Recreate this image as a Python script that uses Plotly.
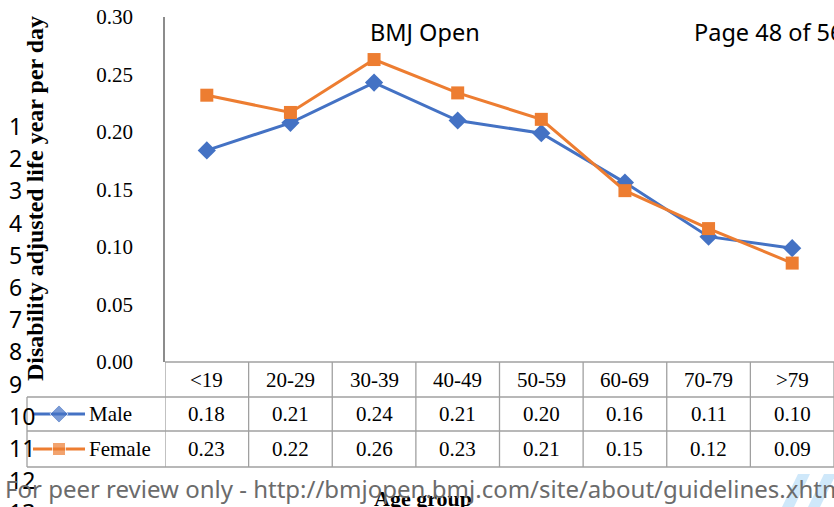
import plotly.graph_objects as go

categories = ["<19", "20-29", "30-39", "40-49", "50-59", "60-69", "70-79", ">79"]
male = [0.184, 0.208, 0.243, 0.210, 0.199, 0.156, 0.109, 0.099]
female = [0.232, 0.217, 0.263, 0.234, 0.211, 0.149, 0.116, 0.086]
series_names = ["Male", "Female"]
y_ticks = [0.00, 0.05, 0.10, 0.15, 0.20, 0.25, 0.30]
y_title = "Disability adjusted life year per day"
x_title = "Age group"
line_numbers = [str(i) for i in range(1, 14)]

W, H = 834, 507
BLUE = "#4472C4"
ORANGE = "#ED7D31"
GRID = "#A0A0A0"
SERIF = "Liberation Serif, Times New Roman, serif"
SANS = "Noto Sans, Open Sans, sans-serif"


def px(x):
    return x / W


def py(y):
    return (H - y) / H


def ann(x, y, text, font, xref="paper", xanchor="center", **kw):
    return dict(x=x, y=y, xref=xref, yref="paper", text=text, showarrow=False,
                xanchor=xanchor, yanchor="middle", font=font, **kw)


fig = go.Figure()
fig.add_trace(go.Scatter(x=categories, y=male, name=series_names[0], mode="lines+markers",
                         line=dict(color=BLUE, width=3),
                         marker=dict(symbol="diamond", size=14, color=BLUE), cliponaxis=False))
fig.add_trace(go.Scatter(x=categories, y=female, name=series_names[1], mode="lines+markers",
                         line=dict(color=ORANGE, width=3),
                         marker=dict(symbol="square", size=13, color=ORANGE), cliponaxis=False))

# legend keys in the data table (separate full-page axis in pixel units)
for name, col, sym, sz, yc in [(series_names[0], BLUE, "diamond", 14, 414),
                               (series_names[1], ORANGE, "square", 13, 449)]:
    fig.add_trace(go.Scatter(x=[33, 59, 85], y=[yc, yc, yc], mode="lines+markers",
                             line=dict(color=col, width=3),
                             marker=dict(symbol=sym, size=[0, sz, 0], color=col),
                             xaxis="x2", yaxis="y2", showlegend=False, hoverinfo="skip",
                             cliponaxis=False))

shapes = []
annotations = []

# table grid
table_top, r1, r2, r3 = 362, 397, 431, 467
shapes.append(dict(type="line", xref="paper", yref="paper", x0=px(165), x1=1, y0=py(table_top), y1=py(table_top),
                   line=dict(color=GRID, width=1.3)))
for yy in (r1, r2, r3):
    shapes.append(dict(type="line", xref="paper", yref="paper", x0=px(27), x1=1, y0=py(yy), y1=py(yy),
                       line=dict(color=GRID, width=1.3)))
shapes.append(dict(type="line", xref="paper", yref="paper", x0=px(27), x1=px(27), y0=py(r1), y1=py(r3),
                   line=dict(color=GRID, width=1.3)))
for i in range(len(categories) + 1):
    shapes.append(dict(type="line", xref="x", yref="paper", x0=i - 0.5, x1=i - 0.5,
                       y0=py(table_top), y1=py(r3), line=dict(color=GRID, width=1.3)))

serif_font = dict(family=SERIF, size=21, color="black")
# table text
for i, c in enumerate(categories):
    annotations.append(ann(c, py(380), c, serif_font, xref="x"))
    annotations.append(ann(c, py(414), f"{male[i]:.2f}", serif_font, xref="x"))
    annotations.append(ann(c, py(449), f"{female[i]:.2f}", serif_font, xref="x"))
for name, yc in [(series_names[0], 414), (series_names[1], 449)]:
    annotations.append(ann(px(87), py(yc), name, serif_font, xanchor="left"))

# axis titles
annotations.append(ann(px(35), py(199), f"<b>{y_title}</b>",
                       dict(family=SERIF, size=24, color="black"), textangle=-90))
annotations.append(ann(px(423), py(498), f"<b>{x_title}</b>", dict(family=SERIF, size=22, color="black")))

# page overlay texts
sans_font = dict(family=SANS, size=23.5, color="black")
annotations.append(ann(px(425), py(32), "BMJ Open", sans_font))
annotations.append(ann(px(692), py(32), "Page 48 of 56", sans_font, xanchor="left"))
for k, t in enumerate(line_numbers):
    annotations.append(ann(px(7), py(126 + 32.2 * k), t, dict(family=SANS, size=23, color="black"),
                           xanchor="left"))
annotations.append(ann(px(3), py(488), "For peer review only - http://bmjopen.bmj.com/site/about/guidelines.xhtml",
                       dict(family=SANS, size=24, color="#6b6b6b"), xanchor="left"))

# light blue watermark stripes
for x0 in (790, 816):
    shapes.append(dict(type="path", xref="paper", yref="paper", layer="below",
                       path=f"M {px(x0+8)} {py(474)} L {px(x0+20)} {py(474)} L {px(x0+4)} {py(507)} L {px(x0-8)} {py(507)} Z",
                       fillcolor="#cfe8fa", line=dict(width=0)))

fig.update_layout(
    width=W, height=H, margin=dict(l=0, r=0, t=0, b=0, autoexpand=False),
    paper_bgcolor="white", plot_bgcolor="rgba(0,0,0,0)", showlegend=False,
    xaxis=dict(domain=[px(165), 1], range=[-0.5, len(categories) - 0.5], showticklabels=False,
               showgrid=False, zeroline=False, showline=False, ticks=""),
    yaxis=dict(domain=[py(362), py(17)], range=[0, 0.30], tickvals=y_ticks, tickformat=".2f",
               showgrid=False, zeroline=False, showline=True, linecolor="#8c8c8c", linewidth=1.5,
               ticks="", ticklabelstandoff=26,
               tickfont=dict(family=SERIF, size=21, color="black")),
    xaxis2=dict(domain=[0, 1], range=[0, W], visible=False, anchor="y2"),
    yaxis2=dict(domain=[0, 1], range=[H, 0], visible=False, anchor="x2"),
    shapes=shapes, annotations=annotations,
)

fig.write_html("out.html", config={"displayModeBar": False},
               post_script="document.body.style.margin='0px';")
